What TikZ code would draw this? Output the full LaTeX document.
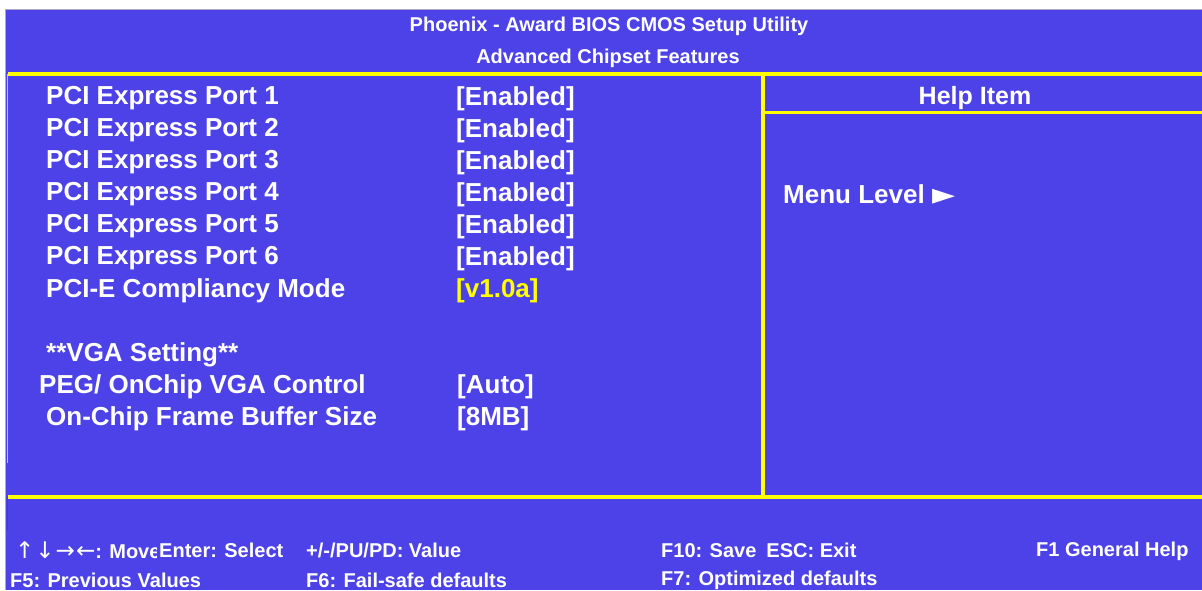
\documentclass[tikz,border=0pt]{standalone}
\usepackage{fontspec}
\setmainfont{Liberation Sans}
\newfontfamily\symfont{DejaVu Sans}
\definecolor{biosblue}{RGB}{76,66,232}
\definecolor{biosyellow}{RGB}{255,255,0}
\definecolor{edgegray}{RGB}{170,170,200}
\tikzset{
  big/.style={font=\fontsize{26}{30}\selectfont\bfseries, text=white, inner sep=0pt, anchor=west, yshift=-2.5pt},
  val/.style={big},
  hdr/.style={font=\fontsize{20}{24}\selectfont\bfseries, text=white, inner sep=0pt, yshift=-1.5pt},
  foot/.style={font=\fontsize{20}{24}\selectfont\bfseries, text=white, inner sep=0pt, anchor=west, yshift=-1pt},
  yline/.style={draw=biosyellow, line width=3.5pt},
}
\begin{document}
\begin{tikzpicture}[x=1pt,y=-1pt]
\useasboundingbox (0,0) rectangle (1202,590);
\fill[white] (0,0) rectangle (1202,590);
\fill[biosblue] (6,9) rectangle (1202,590);
\draw[edgegray, line width=1.2pt] (6,9.5) -- (1202,9.5);
\draw[edgegray, line width=1.2pt] (5.5,9) -- (5.5,590);
% yellow frame lines
\coordinate (tl) at (8,74);
\coordinate (tr) at (1202,74);
\coordinate (vt) at (763,74);
\coordinate (vb) at (763,497);
\coordinate (hl) at (763,112);
\coordinate (hr) at (1202,112);
\coordinate (bl) at (8,497);
\coordinate (br) at (1202,497);
\draw[yline] (tl) -- (tr);
\draw[yline] (vt) -- (vb);
\draw[yline, line width=3pt] (hl) -- (hr);
\draw[yline] (bl) -- (br);
\coordinate (ly1) at (7.5,74);
\coordinate (ly2) at (7.5,463);
\coordinate (ld1) at (7.5,497);
\coordinate (ld2) at (7.5,530);
\draw[biosyellow!70!gray, line width=1pt] (ly1) -- (ly2);
\draw[black!70, line width=1pt] (ld1) -- (ld2);
% header
\node[hdr] (title) at (609,25) {Phoenix - Award BIOS CMOS Setup Utility};
\node[hdr] (sub) at (608,57) {Advanced Chipset Features};
% items
\node[big] (i1) at (46,96) {PCI Express Port 1};
\node[big] (i2) at (46,128) {PCI Express Port 2};
\node[big] (i3) at (46,160) {PCI Express Port 3};
\node[big] (i4) at (46,192) {PCI Express Port 4};
\node[big] (i5) at (46,224) {PCI Express Port 5};
\node[big] (i6) at (46,256) {PCI Express Port 6};
\node[big] (i7) at (46,288) {PCI-E Compliancy Mode};
\node[big] (i8) at (46,352) {**VGA Setting**};
\node[big] (i9) at (39,384) {PEG/ OnChip VGA Control};
\node[big] (i10) at (46,416) {On-Chip Frame Buffer Size};
\node[val] (v1) at (456,96) {[Enabled]};
\node[val] (v2) at (456,128) {[Enabled]};
\node[val] (v3) at (456,160) {[Enabled]};
\node[val] (v4) at (456,192) {[Enabled]};
\node[val] (v5) at (456,224) {[Enabled]};
\node[val] (v6) at (456,256) {[Enabled]};
\node[val, text=biosyellow] (v7) at (456,288) {[v1.0a]};
\node[val] (v9) at (457,384) {[Auto]};
\node[val] (v10) at (457,416) {[8MB]};
% help
\node[big, font=\fontsize{25}{30}\selectfont\bfseries, anchor=center] (help) at (975,96) {Help Item};
\node[big] (menu) at (783,192) {Menu Level {\symfont\fontsize{30}{32}\selectfont\raisebox{-1pt}{►}}};
% footer
\begin{scope}
\clip (10,530) rectangle (156,565);
\node[foot] (f1) at (15,549) {{\symfont\mdseries\fontsize{23}{26}\selectfont ↑\kern1pt↓\kern1pt→\kern1pt←}: Move};
\end{scope}
\node[foot] (f2) at (159,549) {Enter: Select};
\node[foot] (f3) at (306,549) {+/-/PU/PD: Value};
\node[foot] (f4) at (661,549) {F10: Save\hspace{10pt}ESC: Exit};
\node[foot, yshift=-1.5pt] (f5) at (1036,549) {F1 General Help};
\node[foot] (f6) at (10,579) {F5: Previous Values};
\node[foot] (f7) at (306,579) {F6: Fail-safe defaults};
\node[foot] (f8) at (661,579) {F7: Optimized defaults};
\end{tikzpicture}
\end{document}
